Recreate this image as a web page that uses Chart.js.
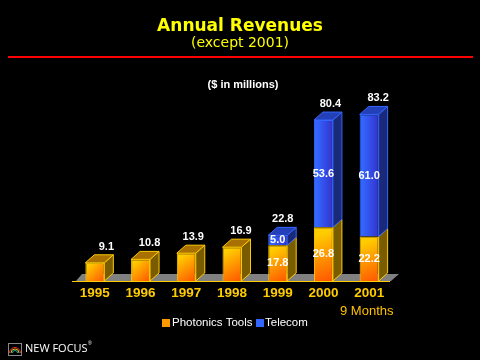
<!DOCTYPE html>
<html><head><meta charset="utf-8">
<style>html,body{margin:0;padding:0;background:#000}#w{width:480px;height:360px}</style>
<script src="https://cdn.jsdelivr.net/npm/chart.js@4"></script>
</head><body><div id="w"><canvas id="c" width="480" height="360"></canvas></div>
<script>
const years = ['1995','1996','1997','1998','1999','2000','2001'];
const photonics = [9.1,10.8,13.9,16.9,17.8,26.8,22.2];
const telecom = [null,null,null,null,5.0,53.6,61.0];
const totals = [9.1,10.8,13.9,16.9,22.8,80.4,83.2];
const totalNudge = [11.5,9,7,9,5,7,9];
const DX = 9, DY = 8;
const SANS = '"Liberation Sans", Arial, sans-serif';

function barBox(chart, i){
  const m = chart.getDatasetMeta(0).data[i];
  return {l: m.x - m.width/2, r: m.x + m.width/2};
}
function frontFill(stops, diag){
  return ctx => {
    const chart = ctx.chart, i = ctx.dataIndex, ys = chart.scales.y, xs = chart.scales.x;
    if (i === undefined || !xs || !ys) return stops[0];
    const cx = xs.getPixelForValue(i), w = 19;
    const base = ctx.datasetIndex === 0 ? 0 : photonics[i];
    const v = ctx.datasetIndex === 0 ? photonics[i] : telecom[i];
    if (v == null) return stops[0];
    const t = ys.getPixelForValue(base + v), b = ys.getPixelForValue(base);
    if (![cx,t,b].every(Number.isFinite)) return stops[0];
    const g = chart.ctx.createLinearGradient(cx - w/2, diag ? t : 0, cx + w/2, diag ? b : 0);
    g.addColorStop(0, stops[0]); g.addColorStop(0.15, stops[0]); g.addColorStop(1, stops[1]);
    return g;
  };
}
function poly(c, pts, fill, stroke){
  c.beginPath(); pts.forEach((p,i)=> i ? c.lineTo(p[0],p[1]) : c.moveTo(p[0],p[1])); c.closePath();
  c.fillStyle = fill; c.fill();
  if (stroke){ c.strokeStyle = stroke; c.lineWidth = 1; c.stroke(); }
}
const depth = {
  id:'depth',
  beforeDatasetsDraw(chart){
    const c = chart.ctx, xs = chart.scales.x, ys = chart.scales.y, y0 = ys.getPixelForValue(0);
    c.save();
    poly(c, [[xs.left+4,y0],[xs.left+10,y0-DY+1],[xs.right+7,y0-DY+1],[xs.right-1,y0]], '#808080');
    years.forEach((_,i)=>{
      const {l,r} = barBox(chart,i);
      const yP = ys.getPixelForValue(photonics[i]);
      poly(c, [[r,y0],[r+DX,y0-DY],[r+DX,yP-DY],[r,yP]], '#7a5c00', '#FFCC00');
      let top = yP, topFill = '#a87000', topStroke = '#FFCC00';
      if (telecom[i] != null){
        const yT = ys.getPixelForValue(totals[i]);
        poly(c, [[r,yP],[r+DX,yP-DY],[r+DX,yT-DY],[r,yT]], '#1a2a78', '#3366FF');
        top = yT; topFill = '#2440b8'; topStroke = '#3366FF';
      }
      poly(c, [[l,top],[l+DX,top-DY],[r+DX,top-DY],[r,top]], topFill, topStroke);
    });
    c.restore();
  },
  afterDatasetsDraw(chart){
    const c = chart.ctx, xs = chart.scales.x, ys = chart.scales.y;
    c.save();
    c.fillStyle = '#FFCC00'; c.fillRect(xs.left, ys.getPixelForValue(0), xs.right-xs.left-2, 1);
    c.fillStyle = '#fff'; c.font = 'bold 11px '+SANS; c.textAlign='center'; c.textBaseline='middle';
    years.forEach((_,i)=>{
      const cx = xs.getPixelForValue(i);
      c.fillText(totals[i].toFixed(1), cx + totalNudge[i], ys.getPixelForValue(totals[i]) - 16);
      if (telecom[i] != null){
        c.fillText(photonics[i].toFixed(1), cx, ys.getPixelForValue(photonics[i]/2));
        c.fillText(telecom[i].toFixed(1), cx, ys.getPixelForValue(photonics[i]+telecom[i]/2));
      }
    });
    c.restore();
  },
  afterDraw(chart){
    const c = chart.ctx;
    c.save();
    c.fillStyle = '#FF0000'; c.fillRect(8,56,465,2);
    c.textBaseline='middle';
    c.fillStyle='#fff'; c.font='bold 11px '+SANS; c.textAlign='center';
    c.fillText('($ in millions)',243,85);
    c.fillStyle='#FFC000'; c.font='13px '+SANS; c.textAlign='left';
    c.fillText('9 Months',340,311);
    const legend = [[162,172,'#FF9900'],[256,265,'#3366FF']];
    chart.data.datasets.forEach((d,i)=>{
      c.fillStyle=legend[i][2]; c.fillRect(legend[i][0],319,8,8);
      c.fillStyle='#fff'; c.font='11.5px '+SANS;
      c.fillText(d.label,legend[i][1],323);
    });
    c.strokeStyle='#888'; c.lineWidth=1; c.strokeRect(8.5,343.5,13,12);
    [['#e03030',5.5],['#e0c020',4],['#20b0a0',2.5]].forEach(a=>{
      c.strokeStyle=a[0]; c.beginPath(); c.arc(15,353,a[1],Math.PI,0); c.stroke();
    });
    c.fillStyle='#fff'; c.font='11px "Open Sans", '+SANS;
    c.fillText('NEW FOCUS',25,349);
    c.font='5px '+SANS; c.fillText('®',88,344);
    c.restore();
  }
};
new Chart(document.getElementById('c'),{
  type:'bar',
  plugins:[depth],
  data:{labels:years,datasets:[
    {label:'Photonics Tools',data:photonics,borderColor:'#FFCC00',borderWidth:1,
     backgroundColor:frontFill(['#FFCC00','#FF5500'],true),stack:'a'},
    {label:'Telecom',data:telecom,borderColor:'#3366FF',borderWidth:1,
     backgroundColor:frontFill(['#3366FF','#3333CC'],false),stack:'a'}
  ]},
  options:{
    responsive:false,animation:false,
    layout:{padding:0},
    datasets:{bar:{barPercentage:0.415,categoryPercentage:1}},
    scales:{
      x:{stacked:true,grid:{display:false,drawTicks:false},border:{display:false},
         ticks:{color:'#FFCC00',font:{family:SANS,size:13.5,weight:'bold'},maxRotation:0,autoSkip:false,padding:4},
         afterFit(s){s.height=79;}},
      y:{stacked:true,min:0,max:100,position:'left',grid:{display:false},border:{display:false},
         ticks:{display:false},afterFit(s){s.width=72;}},
      y2:{min:0,max:100,position:'right',grid:{display:false},border:{display:false},
         ticks:{display:false},afterFit(s){s.width=88;}}
    },
    plugins:{
      title:{display:true,text:'Annual Revenues',color:'#FFFF00',
        font:{family:'"DejaVu Sans"',size:17,weight:'bold',lineHeight:1},padding:{top:18,bottom:0}},
      subtitle:{display:true,text:'(except 2001)',color:'#FFFF00',
        font:{family:'"DejaVu Sans"',size:14,lineHeight:1.2},padding:{top:0,bottom:29}},
      legend:{display:false},
      tooltip:{enabled:false}
    }
  }
});
</script></body></html>
